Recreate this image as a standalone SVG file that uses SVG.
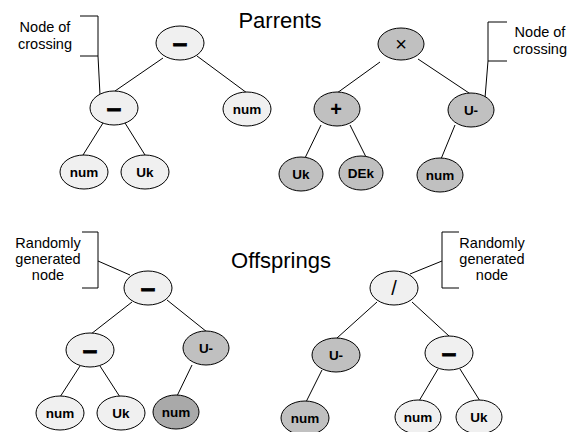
<svg xmlns="http://www.w3.org/2000/svg" width="571" height="432" viewBox="0 0 571 432">
<style>
.n ellipse{stroke:#000;stroke-width:1}
.l ellipse{fill:#f0f0f0}
.g ellipse{fill:#c0c0c0}
.d ellipse{fill:#a9a9a9}
.n text{font-family:"Liberation Sans",Arial,sans-serif;font-weight:bold;font-size:13.5px;text-anchor:middle}
.n text.m{font-size:26px;stroke:#000;stroke-width:0.9}
.n text.x{font-size:20px;font-weight:normal}
.n text.s{font-size:20px;font-weight:normal}
.c line,.c polyline{stroke:#000;stroke-width:1;fill:none}
.t{font-family:"Liberation Sans",Arial,sans-serif;text-anchor:middle;fill:#000}
.a{font-size:14.5px}
.h{font-size:22px}
</style>
<rect width="571" height="432" fill="#fff"/>
<g id="connectors" class="c">
<line x1="163" y1="58" x2="115" y2="91"/>
<line x1="197" y1="56" x2="247" y2="93"/>
<line x1="103" y1="123" x2="83" y2="155"/>
<line x1="125" y1="123" x2="145" y2="155"/>
<line x1="380" y1="62" x2="337" y2="93"/>
<line x1="418" y1="59" x2="472" y2="95"/>
<line x1="321" y1="125" x2="305" y2="158"/>
<line x1="350" y1="125" x2="366" y2="157"/>
<line x1="455" y1="125" x2="441" y2="159"/>
<line x1="132" y1="302" x2="91" y2="334"/>
<line x1="167" y1="300" x2="207" y2="332"/>
<line x1="80" y1="366" x2="60" y2="397"/>
<line x1="100" y1="366" x2="120" y2="397"/>
<line x1="192" y1="365" x2="177" y2="396"/>
<line x1="377" y1="302" x2="337" y2="338"/>
<line x1="412" y1="302" x2="449" y2="336"/>
<line x1="322" y1="370" x2="306" y2="402"/>
<line x1="438" y1="369" x2="419" y2="401"/>
<line x1="460" y1="369" x2="480" y2="401"/>
<polyline points="80,16 98,16 98,56 80,56"/>
<line x1="98" y1="56" x2="100" y2="95"/>
<polyline points="507,22 488,22 488,61 507,61"/>
<line x1="488" y1="61" x2="485" y2="98"/>
<polyline points="82,232 98,232 98,288 82,288"/>
<line x1="98" y1="261" x2="130" y2="275"/>
<polyline points="459,232 442,232 442,288 459,288"/>
<line x1="442" y1="261" x2="410" y2="274"/>
</g>
<g id="labels">
<text class="t h" x="280" y="28">Parrents</text>
<text class="t h" x="281" y="268">Offsprings</text>
<text class="t a" x="45" y="32">Node of</text>
<text class="t a" x="45" y="49">crossing</text>
<text class="t a" x="540" y="37">Node of</text>
<text class="t a" x="540" y="54">crossing</text>
<text class="t a" x="48" y="248">Randomly</text>
<text class="t a" x="48" y="264">generated</text>
<text class="t a" x="48" y="280">node</text>
<text class="t a" x="492" y="248">Randomly</text>
<text class="t a" x="492" y="264">generated</text>
<text class="t a" x="492" y="280">node</text>
</g>
<g id="p1-root" class="n l"><ellipse cx="180" cy="43" rx="24" ry="17"/><text class="m" x="180" y="52">–</text></g>
<g id="p1-minus" class="n l"><ellipse cx="114" cy="108" rx="24" ry="17"/><text class="m" x="114" y="117">–</text></g>
<g id="p1-num" class="n l"><ellipse cx="247" cy="109" rx="24" ry="17"/><text x="247" y="114">num</text></g>
<g id="p1-num2" class="n l"><ellipse cx="84" cy="172" rx="24" ry="17"/><text x="84" y="177">num</text></g>
<g id="p1-uk" class="n l"><ellipse cx="145" cy="172" rx="24" ry="17"/><text x="145" y="177">Uk</text></g>
<g id="p2-root" class="n g"><ellipse cx="401" cy="44" rx="23" ry="16"/><text class="x" x="401" y="51">×</text></g>
<g id="p2-plus" class="n g"><ellipse cx="337" cy="109" rx="23" ry="17"/><text class="x" x="336" y="116" style="font-weight:bold">+</text></g>
<g id="p2-um" class="n g"><ellipse cx="471" cy="110" rx="23" ry="17"/><text x="471" y="115">U-</text></g>
<g id="p2-uk" class="n g"><ellipse cx="301" cy="174" rx="22" ry="17"/><text x="301" y="179">Uk</text></g>
<g id="p2-dek" class="n g"><ellipse cx="361" cy="173" rx="22" ry="17"/><text x="361" y="178">DEk</text></g>
<g id="p2-num" class="n g"><ellipse cx="440" cy="175" rx="23" ry="17"/><text x="440" y="180">num</text></g>
<g id="o1-root" class="n l"><ellipse cx="148" cy="288" rx="24" ry="17"/><text class="m" x="148" y="297">–</text></g>
<g id="o1-minus" class="n l"><ellipse cx="90" cy="350" rx="24" ry="17"/><text class="m" x="90" y="359">–</text></g>
<g id="o1-um" class="n g"><ellipse cx="206" cy="348" rx="23" ry="17"/><text x="206" y="353">U-</text></g>
<g id="o1-num" class="n l"><ellipse cx="60" cy="413" rx="24" ry="17"/><text x="60" y="418">num</text></g>
<g id="o1-uk" class="n l"><ellipse cx="121" cy="413" rx="24" ry="17"/><text x="121" y="418">Uk</text></g>
<g id="o1-num2" class="n d"><ellipse cx="176" cy="412" rx="23" ry="17"/><text x="176" y="417">num</text></g>
<g id="o2-root" class="n l"><ellipse cx="394" cy="288" rx="24" ry="17"/><text class="s" x="394" y="295">/</text></g>
<g id="o2-um" class="n g"><ellipse cx="336" cy="355" rx="24" ry="17"/><text x="336" y="360">U-</text></g>
<g id="o2-minus" class="n l"><ellipse cx="449" cy="353" rx="24" ry="17"/><text class="m" x="449" y="362">–</text></g>
<g id="o2-num" class="n g"><ellipse cx="305" cy="418" rx="24" ry="17"/><text x="305" y="423">num</text></g>
<g id="o2-num2" class="n l"><ellipse cx="418" cy="417" rx="23" ry="17"/><text x="418" y="422">num</text></g>
<g id="o2-uk" class="n l"><ellipse cx="479" cy="417" rx="23" ry="17"/><text x="479" y="422">Uk</text></g>
</svg>
